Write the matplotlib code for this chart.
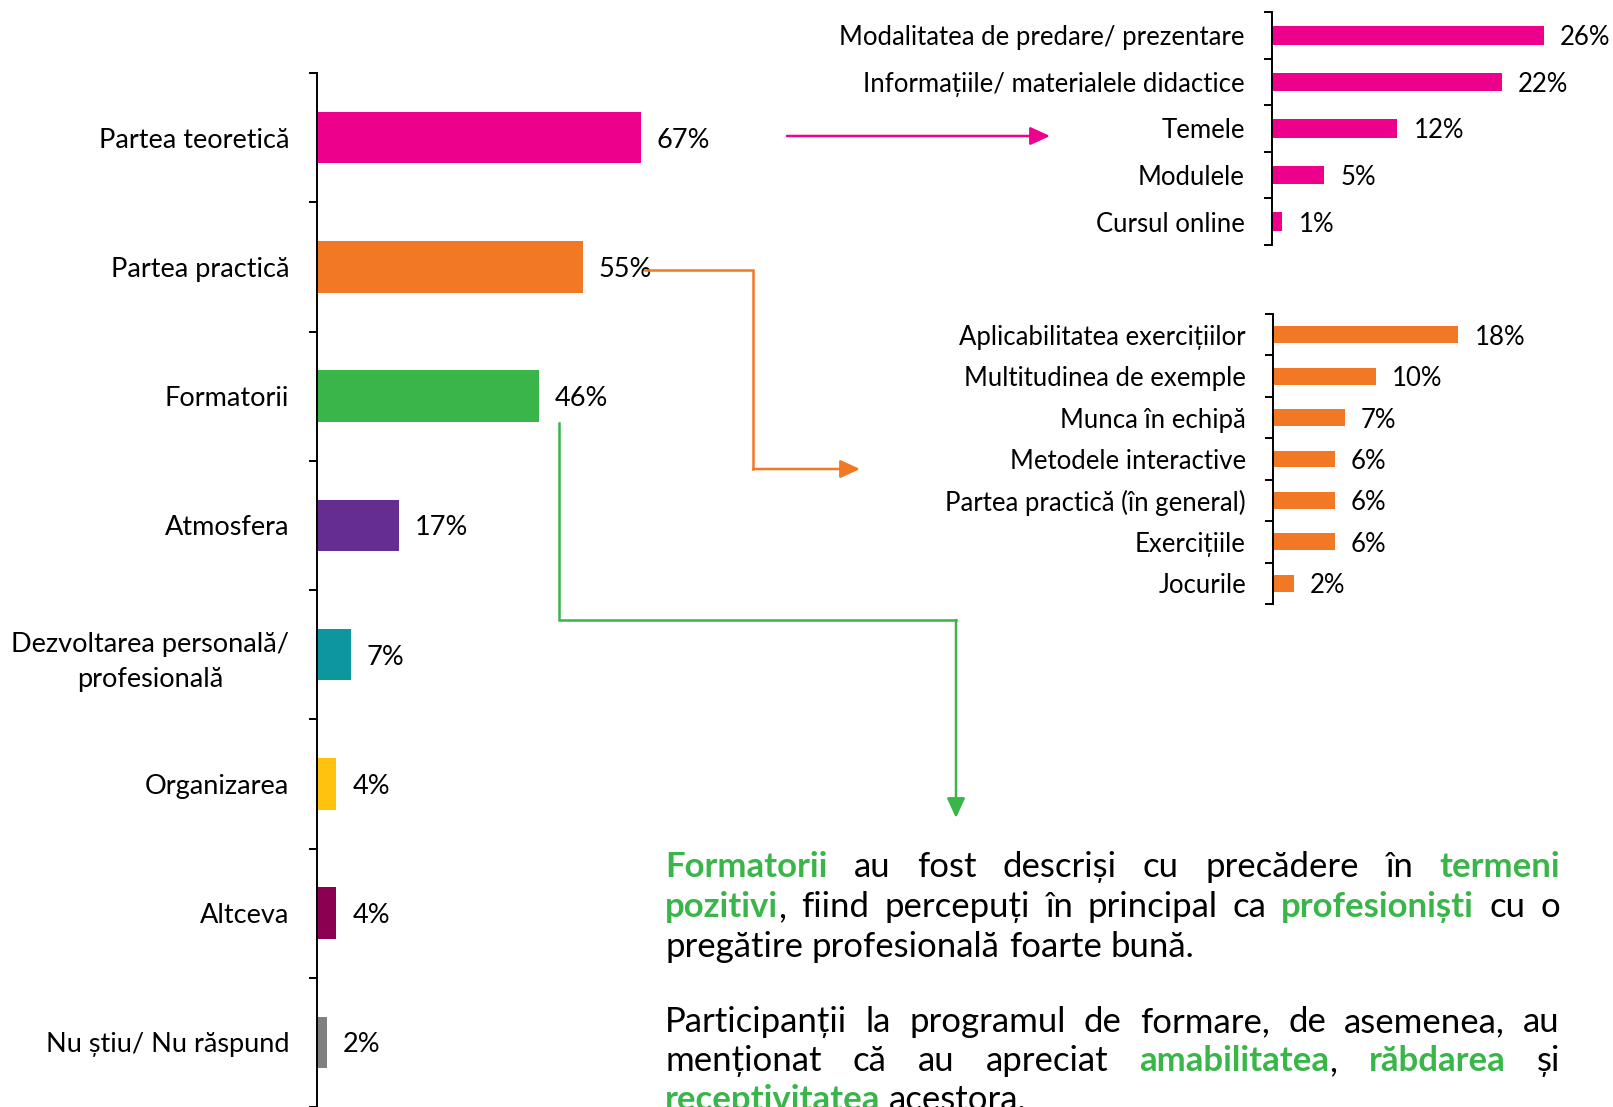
import matplotlib
matplotlib.use('Agg')
import matplotlib.pyplot as plt
from matplotlib.lines import Line2D
from matplotlib.patches import FancyArrowPatch
import numpy as np

W, H = 1613, 1107
DPI = 100
FONT = 'Lato'
GREEN_TXT = '#39B54A'

# date - graficul principal
main_labels = ['Partea teoretică', 'Partea practică', 'Formatorii', 'Atmosfera',
               'Dezvoltarea personală/\nprofesională', 'Organizarea', 'Altceva', 'Nu știu/ Nu răspund']
main_values = [67, 55, 46, 17, 7, 4, 4, 2]
main_colors = ['#EC008C', '#F37826', '#39B54A', '#662D91', '#0D96A0', '#FFC20E', '#8B0050', '#808080']

# detalii partea teoretica
theory_labels = ['Modalitatea de predare/ prezentare', 'Informațiile/ materialele didactice',
                 'Temele', 'Modulele', 'Cursul online']
theory_values = [26, 22, 12, 5, 1]

# detalii partea practica
practice_labels = ['Aplicabilitatea exercițiilor', 'Multitudinea de exemple', 'Munca în echipă',
                   'Metodele interactive', 'Partea practică (în general)', 'Exercițiile', 'Jocurile']
practice_values = [18, 10, 7, 6, 6, 6, 2]

# textul din dreapta jos (*...* = verde, bold)
para_lines = [
    ("*Formatorii* au fost descriși cu precădere în *termeni*", True),
    ("*pozitivi*, fiind percepuți în principal ca *profesioniști* cu o", True),
    ("pregătire profesională foarte bună.", False),
    ("Participanții la programul de formare, de asemenea, au", True),
    ("menționat că au apreciat *amabilitatea*, *răbdarea* și", True),
    ("*receptivitatea* acestora.", False),
]

plt.rcParams['font.family'] = [FONT, 'DejaVu Sans']

fig = plt.figure(figsize=(W / DPI, H / DPI), dpi=DPI)


def px_box(left, top, width, height):
    return [left / W, 1 - (top + height) / H, width / W, height / H]


def px(x, y):
    return x / W, 1 - y / H


def bar_panel(rect, labels, values, colors, xmax, ybottom, bar_h, fs, lab_pad):
    ax = fig.add_axes(rect)
    n = len(labels)
    y = np.arange(n)
    bars = ax.barh(y, values, height=bar_h, color=colors)
    vals = ax.bar_label(bars, labels=[f'{v}%' for v in values], padding=11.5, fontsize=fs)
    for t in vals:
        t.set_va('center_baseline')
    ax.set_xlim(0, xmax)
    ax.set_ylim(ybottom, -0.5)
    ax.set_yticks(y, labels, fontsize=fs)
    ax.set_yticks(np.arange(-0.5, n, 1), minor=True)
    ax.tick_params(axis='y', which='major', length=0, pad=lab_pad)
    ax.tick_params(axis='y', which='minor', length=6, width=1.4, direction='out')
    for t in ax.get_yticklabels():
        t.set_multialignment('center')
        t.set_linespacing(1.5)
    ax.xaxis.set_visible(False)
    for s in ['top', 'right', 'bottom']:
        ax.spines[s].set_visible(False)
    ax.spines['left'].set_linewidth(1.4)
    ax.patch.set_alpha(0)
    return ax


bar_panel(px_box(317, 73, 483, H - 73), main_labels, main_values, main_colors,
          100, 7.49, 0.40, 19.5, 20)
bar_panel(px_box(1272, 12, 10.45 * 30, 233), theory_labels, theory_values, '#EC008C',
          30, 4.5, 0.40, 18.5, 19.5)
bar_panel(px_box(1273, 314, 10.3 * 30, 290), practice_labels, practice_values, '#F37826',
          30, 6.5, 0.41, 18.5, 19.5)


def connector(points, color):
    pts = [px(x, y) for x, y in points]
    if len(pts) > 2:
        xs, ys = zip(*pts[:-1])
        fig.add_artist(Line2D(xs, ys, color=color, lw=1.8, transform=fig.transFigure,
                              solid_joinstyle='miter'))
    arr = FancyArrowPatch(pts[-2], pts[-1], transform=fig.transFigure,
                          arrowstyle='-|>,head_length=12,head_width=5.5', mutation_scale=1,
                          color=color, lw=1.8, shrinkA=0, shrinkB=0)
    fig.add_artist(arr)


connector([(787, 136), (1050, 136)], '#EC008C')
connector([(645, 270), (753, 270), (753, 469), (860, 469)], '#F37826')
connector([(559, 423), (559, 620), (956, 620), (956, 818)], GREEN_TXT)

# paragraf aliniat stanga-dreapta
fig.canvas.draw()
renderer = fig.canvas.get_renderer()
PFS = 25
x_left, x_right = 665, 1560
baselines = [877, 917, 957, 1032, 1071, 1110]


def measure(s, bold=False):
    t = fig.text(0, 0, s, fontsize=PFS, fontweight='bold' if bold else 'normal')
    w = t.get_window_extent(renderer).width
    t.remove()
    return w


space_w = measure('a a') - measure('aa')

for (line, justify), yb in zip(para_lines, baselines):
    words = []
    for word in line.split(' '):
        segs = []
        green = False
        for k, part in enumerate(word.split('*')):
            if k > 0:
                green = not green
            if part:
                segs.append((part, green))
        objs = []
        wsum = 0
        for part, green in segs:
            t = fig.text(0, 0, part, fontsize=PFS, va='baseline',
                         fontweight='bold' if green else 'normal',
                         color=GREEN_TXT if green else 'black')
            w = t.get_window_extent(renderer).width
            objs.append((t, w))
            wsum += w
        words.append((objs, wsum))
    total = sum(w for _, w in words)
    if justify and len(words) > 1:
        gap = (x_right - x_left - total) / (len(words) - 1)
    else:
        gap = space_w
    x = x_left
    for objs, wsum in words:
        xx = x
        for t, w in objs:
            t.set_position(px(xx, yb))
            xx += w
        x += wsum + gap

fig.savefig('out.png', dpi=DPI)
